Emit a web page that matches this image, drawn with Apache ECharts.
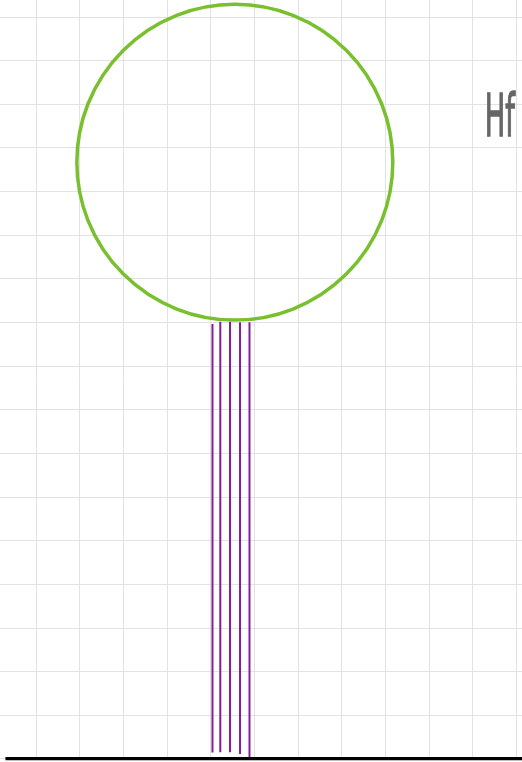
<!DOCTYPE html>
<html>
<head>
<meta charset="utf-8">
<script src="https://cdn.jsdelivr.net/npm/echarts@6/dist/echarts.min.js"></script>
<style>
  html, body { margin: 0; padding: 0; background: #fff; }
  #chart { width: 522px; height: 762px; }
</style>
</head>
<body>
<div id="chart"></div>
<script>
// sketch values, measured in grid squares (1 unit = one square of the paper)
var circleCenter = [5.556, 13.67];
var circleRadius = 3.62;

var stickX = [5.044, 5.223, 5.446, 5.675, 5.892];
var stickTop = [9.96, 10.01, 10.01, 10.0, 10.0];
var stickBottom = [0.14, 0.15, 0.15, 0.11, 0.04];

var baseFrom = 0.3;
var baseTo = 12.5;

var noteText = 'Hf';
var notePos = [11.63, 14.62];

var unit = 43.64;

function _buildSeries() {
	var series = [];
	// the ground line
	series.push({
		type: 'line',
		symbol: 'none',
		silent: true,
		lineStyle: { color: '#000', width: 3.5 },
		data: [[baseFrom, 0], [baseTo, 0]]
	});
	// the purple stems
	for (var i = 0; i < stickX.length; i++) {
		series.push({
			type: 'line',
			symbol: 'none',
			silent: true,
			lineStyle: { color: '#861e9c', width: 2 },
			data: [[stickX[i], stickBottom[i]], [stickX[i], stickTop[i]]]
		});
	}
	// the green ring
	series.push({
		type: 'custom',
		silent: true,
		renderItem: function(params, api) {
			var c = api.coord([api.value(0), api.value(1)]);
			var r = api.size([api.value(2), 0])[0];
			return {
				type: 'circle',
				shape: { cx: c[0], cy: c[1], r: r },
				style: { fill: 'none', stroke: '#78c02e', lineWidth: 3.5 }
			};
		},
		encode: { x: 0, y: 1 },
		data: [[circleCenter[0], circleCenter[1], circleRadius]]
	});
	// the scribbled note
	series.push({
		type: 'custom',
		silent: true,
		renderItem: function(params, api) {
			var c = api.coord([api.value(0), api.value(1)]);
			return {
				type: 'text',
				x: c[0],
				y: c[1],
				scaleX: 0.47,
				style: {
					text: noteText,
					fontSize: 58,
					fontFamily: 'DejaVu Sans',
					fill: '#666',
					stroke: '#666',
					lineWidth: 1.5,
					align: 'center',
					verticalAlign: 'middle'
				}
			};
		},
		encode: { x: 0, y: 1 },
		data: [[notePos[0], notePos[1]]]
	});
	return series;
}

var option = {
	animation: false,
	backgroundColor: '#fff',
	grid: {
		left: -7.64,
		right: 522 - (-7.64 + 13 * unit),
		bottom: 762 - 758.7,
		top: 758.7 - 18 * unit,
		outerBoundsMode: 'none'
	},
	xAxis: {
		type: 'value',
		min: 0,
		max: 13,
		interval: 1,
		axisLine: { show: false },
		axisTick: { show: false },
		axisLabel: { show: false },
		splitLine: { show: true, lineStyle: { color: '#e2e2e2', width: 1 } }
	},
	yAxis: {
		type: 'value',
		min: 0,
		max: 18,
		interval: 1,
		axisLine: { show: false },
		axisTick: { show: false },
		axisLabel: { show: false },
		splitLine: { show: true, lineStyle: { color: '#e2e2e2', width: 1 } }
	},
	series: _buildSeries()
};

var myChart = echarts.init(document.getElementById('chart'));
myChart.setOption(option);
</script>
</body>
</html>
